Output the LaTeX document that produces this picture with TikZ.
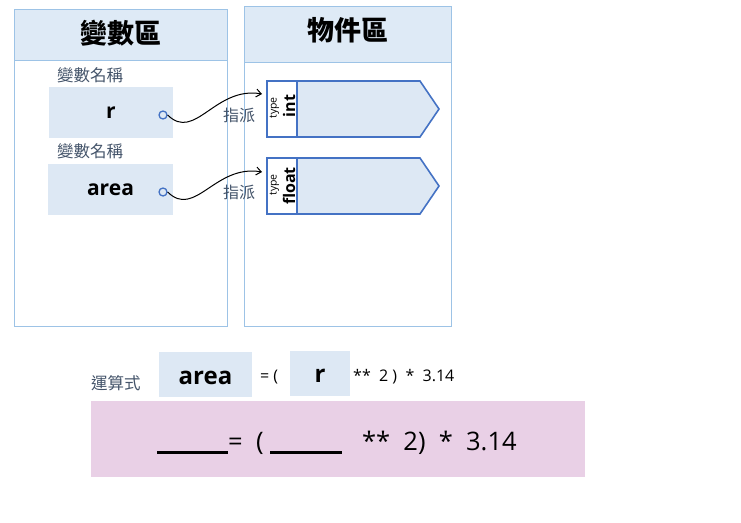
\documentclass[tikz,border=0pt]{standalone}
\usepackage{fontspec}
\setmainfont{Open Sans}
\newfontfamily\cjk{Noto Sans CJK TC}
\usetikzlibrary{arrows.meta}
\definecolor{panelline}{RGB}{157,195,230}
\definecolor{headfill}{RGB}{222,234,246}
\definecolor{boxfill}{RGB}{221,232,244}
\definecolor{typeline}{RGB}{68,114,196}
\definecolor{labelgray}{RGB}{68,84,106}
\definecolor{pinkfill}{RGB}{233,208,230}
\tikzset{
  panel/.style={draw=panelline, line width=0.8pt},
  header/.style={fill=headfill, draw=panelline, line width=0.8pt},
  title/.style={font=\cjk\bfseries\fontsize{27}{30}\selectfont},
  cjklabel/.style={text=labelgray, font=\cjk\fontsize{16.5}{18}\selectfont, inner sep=0pt},
  varbox/.style={fill=boxfill, inner sep=0pt, font=\bfseries\fontsize{21}{24}\selectfont},
  exprword/.style={inner sep=0pt, font=\bfseries\fontsize{24}{26}\selectfont},
  pin/.style={circle, draw=typeline, line width=1.3pt, minimum size=8pt, inner sep=0pt},
  typebox/.style={draw=typeline, line width=1.6pt, fill=boxfill, line join=miter},
  tagbox/.style={draw=typeline, line width=1.6pt, fill=white},
  typeword/.style={rotate=90, font=\fontsize{10.5}{11}\selectfont, inner sep=0pt},
  typename/.style={rotate=90, font=\bfseries\fontsize{16}{17}\selectfont, inner sep=0pt},
  assign/.style={-{Straight Barb[length=5pt,width=8pt]}, line width=1pt, black},
  small/.style={font=\fontsize{16}{18}\selectfont, inner sep=0pt},
}
\begin{document}
\begin{tikzpicture}[x=1pt,y=-1pt]
\useasboundingbox (0,0) rectangle (741,522);

% variable area panel
\draw[panel] (14,9) rectangle (227,326);
\draw[header] (14,9) rectangle (227,60);
\node[title] (vtitle) at (121,33) {變數區};

% object area panel
\draw[panel] (244,6) rectangle (451,326);
\draw[header] (244,6) rectangle (451,62);
\node[title] (otitle) at (348,30) {物件區};

% variable names
\node[cjklabel, anchor=west] (vn1) at (57,75) {變數名稱};
\node[varbox, minimum width=124pt, minimum height=51pt] (vr) at (111,112.5) {r};
\node[pin] (c1) at (163,115) {};

\node[cjklabel, anchor=west] (vn2) at (57,151) {變數名稱};
\node[varbox, minimum width=125pt, minimum height=51pt] (varea) at (110.5,189.5) {area};
\node[pin] (c2) at (163,192) {};

% objects
\path[typebox] (267,81) -- (420,81) -- (439,109) -- (420,137) -- (267,137) -- cycle;
\draw[tagbox] (267,81) rectangle (297,137);
\node[typeword] (t1type) at (274.5,108) {type};
\node[typename] (t1name) at (289,106) {int};
\coordinate (t1) at (262,94);

\path[typebox] (267,158) -- (420,158) -- (439,186) -- (420,214) -- (267,214) -- cycle;
\draw[tagbox] (267,158) rectangle (297,214);
\node[typeword] (t2type) at (274.5,185) {type};
\node[typename] (t2name) at (289,186) {float};
\coordinate (t2) at (262,172);

% assignments
\draw[assign] (c1.east) .. controls (195,142) and (215,86) .. (t1);
\node[cjklabel, font=\cjk\fontsize{16}{18}\selectfont] (as1) at (239,115) {指派};
\draw[assign] (c2.east) .. controls (195,219) and (215,164) .. (t2);
\node[cjklabel, font=\cjk\fontsize{16}{18}\selectfont] (as2) at (239,192) {指派};

% expression
\node[cjklabel, anchor=west] (exlabel) at (91,383) {運算式};
\node[varbox, minimum width=93pt, minimum height=45pt] (earea) at (205.5,374.5) {};
\node[exprword] (eareatext) at (205.5,378) {area};
\node[small, anchor=west] (eq) at (260,377) {= (};
\node[varbox, minimum width=60pt, minimum height=45pt] (er) at (320,373.5) {};
\node[exprword] (ertext) at (320,375.5) {r};
\node[small, anchor=west] (rest) at (353,377) {**\ \ 2 )\ \ *\ \ 3.14};

% blank template
\node[fill=pinkfill, minimum width=494pt, minimum height=76pt, inner sep=0pt] (tmpl) at (338,439) {};
\node[font=\fontsize{25.5}{28}\selectfont, inner sep=0pt, anchor=west] (tmpltext) at (157,443)
  {\rule[-3pt]{71pt}{2.8pt}=\ \ (\ \rule[-3pt]{72pt}{2.8pt}\ \ \ **\ \ 2)\ \ *\ \ 3.14};
\end{tikzpicture}
\end{document}
